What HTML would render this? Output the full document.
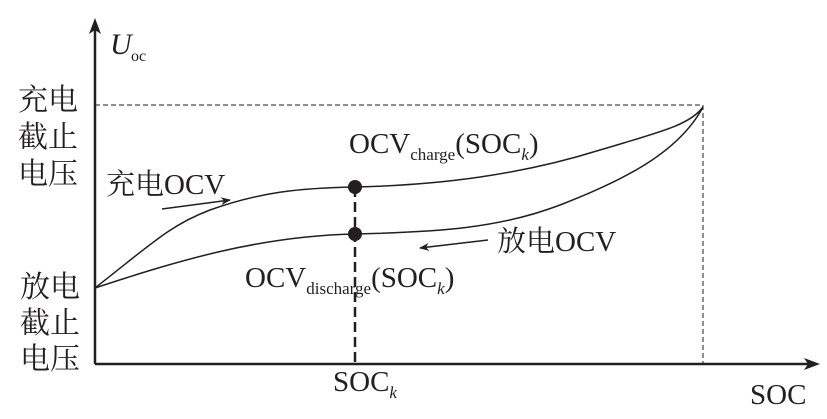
<!DOCTYPE html>
<html><head><meta charset="utf-8"><style>
html,body{margin:0;padding:0;background:#fff;}
svg text{font-family:"Liberation Serif","Noto Serif CJK SC",serif;fill:#231f20;}
.cn{font-family:"Liberation Serif","Noto Serif CJK SC",serif;}
</style></head><body>
<svg width="827" height="414" viewBox="0 0 827 414" xmlns="http://www.w3.org/2000/svg">
<defs><marker id="a" markerWidth="10" markerHeight="8" refX="9" refY="4" orient="auto" markerUnits="userSpaceOnUse"><path d="M0,0 L10,4 L0,8 L3,4 Z" fill="#231f20"/></marker></defs>
<g stroke="#231f20" fill="none">
<line x1="95" y1="364" x2="95" y2="26" stroke-width="2.5"/>
<path d="M95,18 L89,34 L95,30 L101,34 Z" fill="#231f20" stroke="none"/>
<line x1="95" y1="364" x2="812" y2="364" stroke-width="2.5"/>
<path d="M820,364 L804,358 L808,364 L804,370 Z" fill="#231f20" stroke="none"/>
<line x1="95" y1="105" x2="703" y2="105" stroke-dasharray="5,3" stroke-width="1"/>
<line x1="703" y1="105" x2="703" y2="364" stroke-dasharray="5,3" stroke-width="1"/>
<line x1="355" y1="187" x2="355" y2="364" stroke-dasharray="10,5" stroke-width="2.5"/>
<path d="M95,288 C150,245 170,225 210,210 C260,192 300,188 355,187 C440,185 520,175 600,150 C660,132 690,125 703,107" stroke-width="1.5"/>
<path d="M95,288 C180,260 260,236 355,234 C440,232 500,228 560,205 C630,178 680,150 703,107" stroke-width="1.5"/>
<line x1="162" y1="209" x2="230" y2="200" stroke-width="1.5" marker-end="url(#a)"/>
<line x1="488" y1="240" x2="420" y2="248" stroke-width="1.5" marker-end="url(#a)"/>
</g>
<circle cx="355" cy="187" r="7" fill="#231f20"/>
<circle cx="355" cy="234" r="7" fill="#231f20"/>
<g font-size="30" class="cn">
<text x="18" y="110">充电</text>
<text x="18" y="147">截止</text>
<text x="18" y="184">电压</text>
<text x="20" y="297">放电</text>
<text x="20" y="333">截止</text>
<text x="20" y="369">电压</text>
</g>
<text x="110" y="54" font-size="30" font-style="italic">U</text>
<text x="131" y="61" font-size="16">oc</text>
<text x="106" y="194" font-size="29">充电OCV</text>
<text x="497" y="251" font-size="29">放电OCV</text>
<text x="349" y="153" font-size="29">OCV<tspan font-size="17" dy="7">charge</tspan><tspan dy="-7">(SOC</tspan><tspan font-size="17" font-style="italic" dy="7">k</tspan><tspan dy="-7">)</tspan></text>
<text x="245" y="287" font-size="29">OCV<tspan font-size="17" dy="7">discharge</tspan><tspan dy="-7">(SOC</tspan><tspan font-size="17" font-style="italic" dy="7">k</tspan><tspan dy="-7">)</tspan></text>
<text x="333" y="391" font-size="29">SOC<tspan font-size="17" font-style="italic" dy="7">k</tspan></text>
<text x="750" y="404" font-size="29">SOC</text>
</svg>
</body></html>
